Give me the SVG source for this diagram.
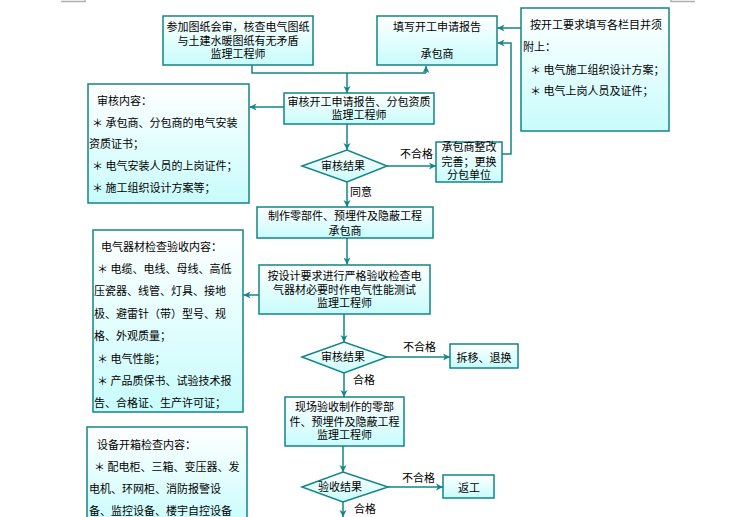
<svg xmlns="http://www.w3.org/2000/svg" width="745" height="517" viewBox="0 0 745 517">
<defs>
<linearGradient id="g" x1="0" y1="0" x2="0" y2="1">
<stop offset="0" stop-color="#ffffff"/>
<stop offset="1" stop-color="#c8fcfc"/>
</linearGradient>
<marker id="arr" markerWidth="8" markerHeight="8" refX="7" refY="4" orient="auto" markerUnits="userSpaceOnUse">
<path d="M0,0.5 L7,4 L0,7.5 L2,4 z" fill="#138585"/>
</marker>
<style>
.box{fill:url(#g);stroke:#138585;stroke-width:1.5}
.t{font-family:"Noto Sans CJK SC","Liberation Sans",sans-serif;font-size:11px;fill:#000;dominant-baseline:central}
.c{text-anchor:middle}
.ln{fill:none;stroke:#138585;stroke-width:1.5;marker-end:url(#arr)}
.pl{fill:none;stroke:#138585;stroke-width:1.5}
.crn{fill:none;stroke:#b0b0b0;stroke-width:1.5}
</style>
</defs>
<rect width="745" height="517" fill="#ffffff"/>
<g id="corners">
<polyline class="crn" points="61,1.5 85,1.5 85,0"/>
<polyline class="crn" points="671,0 671,1.5 695,1.5"/>
</g>
<g id="connectors">
<polyline class="pl" points="252,65 252,73 426,73"/>
<polyline class="ln" points="426,73 426,66"/>
<polyline class="ln" points="347,73 347,93"/>
<polyline class="ln" points="521,28 497.5,28"/>
<polyline class="ln" points="502,154 511,154 511,43 497.5,43"/>
<polyline class="ln" points="284,107 249.5,107"/>
<polyline class="ln" points="347,124 347,150"/>
<polyline class="ln" points="387,166 436,166"/>
<polyline class="ln" points="347,182 347,207"/>
<polyline class="ln" points="347,238 347,264.5"/>
<polyline class="ln" points="259,295 243.5,295"/>
<polyline class="ln" points="344,314 344,342"/>
<polyline class="ln" points="387,357 450,357"/>
<polyline class="ln" points="344,373 344,397"/>
<polyline class="ln" points="343,446 343,472"/>
<polyline class="ln" points="388,487 443,487"/>
<polyline class="ln" points="343,502 343,517"/>
</g>
<g id="labels">
<text class="t" x="400" y="153">不合格</text>
<text class="t" x="350" y="191">同意</text>
<text class="t" x="403" y="346">不合格</text>
<text class="t" x="353" y="379">合格</text>
<text class="t" x="402" y="477">不合格</text>
<text class="t" x="354" y="508">合格</text>
</g>
<g id="n1">
<rect class="box" x="163" y="16" width="150" height="49"/>
<text class="t c" x="238" y="26">参加图纸会审，核查电气图纸</text>
<text class="t c" x="238" y="39.5">与土建水暖图纸有无矛盾</text>
<text class="t c" x="238" y="53">监理工程师</text>
</g>
<g id="n2">
<rect class="box" x="377" y="16" width="120" height="49"/>
<text class="t c" x="437" y="26">填写开工申请报告</text>
<text class="t c" x="437" y="53">承包商</text>
</g>
<g id="n3">
<rect class="box" x="521" y="8" width="148" height="123"/>
<text class="t" x="530" y="24">按开工要求填写各栏目并须</text>
<text class="t" x="523" y="46">附上：</text>
<text class="t" x="530" y="69">＊ 电气施工组织设计方案；</text>
<text class="t" x="530" y="90">＊ 电气上岗人员及证件；</text>
</g>
<g id="n4">
<rect class="box" x="284" y="93" width="150" height="31"/>
<text class="t c" x="359" y="101">审核开工申请报告、分包资质</text>
<text class="t c" x="359" y="114">监理工程师</text>
</g>
<g id="n5">
<rect class="box" x="88" y="84" width="161" height="119"/>
<text class="t" x="97" y="100">审核内容：</text>
<text class="t" x="92" y="122">＊ 承包商、分包商的电气安装</text>
<text class="t" x="89" y="143">资质证书；</text>
<text class="t" x="92" y="165">＊ 电气安装人员的上岗证件；</text>
<text class="t" x="92" y="187">＊ 施工组织设计方案等；</text>
</g>
<g id="n6">
<polygon class="box" points="302,166 347,150 387,166 347,182"/>
<text class="t c" x="343" y="165">审核结果</text>
</g>
<g id="n7">
<rect class="box" x="436" y="142" width="66" height="40"/>
<text class="t c" x="469" y="146">承包商整改</text>
<text class="t c" x="469" y="161">完善；更换</text>
<text class="t c" x="469" y="174">分包单位</text>
</g>
<g id="n8">
<rect class="box" x="257" y="207" width="176" height="31"/>
<text class="t c" x="345" y="214.5">制作零部件、预埋件及隐蔽工程</text>
<text class="t c" x="345" y="229.5">承包商</text>
</g>
<g id="n9">
<rect class="box" x="259" y="265" width="171" height="49"/>
<text class="t c" x="344.5" y="275">按设计要求进行严格验收检查电</text>
<text class="t c" x="344.5" y="288.5">气器材必要时作电气性能测试</text>
<text class="t c" x="344.5" y="302">监理工程师</text>
</g>
<g id="n10">
<rect class="box" x="93" y="230" width="150" height="182"/>
<text class="t" x="101" y="246">电气器材检查验收内容：</text>
<text class="t" x="97" y="268">＊ 电缆、电线、母线、高低</text>
<text class="t" x="94" y="290">压瓷器、线管、灯具、接地</text>
<text class="t" x="94" y="312.5">极、避雷针（带）型号、规</text>
<text class="t" x="94" y="335">格、外观质量；</text>
<text class="t" x="97" y="357.5">＊ 电气性能；</text>
<text class="t" x="97" y="379.5">＊ 产品质保书、试验技术报</text>
<text class="t" x="94" y="401.5">告、合格证、生产许可证；</text>
</g>
<g id="n11">
<polygon class="box" points="302,357 344,342 387,357 344,373"/>
<text class="t c" x="343" y="356">审核结果</text>
</g>
<g id="n12">
<rect class="box" x="450" y="344" width="68" height="24"/>
<text class="t c" x="484" y="357">拆移、退换</text>
</g>
<g id="n13">
<rect class="box" x="285" y="397" width="119" height="49"/>
<text class="t c" x="344.5" y="406">现场验收制作的零部</text>
<text class="t c" x="344.5" y="420.5">件、预埋件及隐蔽工程</text>
<text class="t c" x="344.5" y="433.5">监理工程师</text>
</g>
<g id="n14">
<polygon class="box" points="302,487 343,472 388,487 343,502"/>
<text class="t c" x="340" y="486">验收结果</text>
</g>
<g id="n15">
<rect class="box" x="443" y="475" width="51" height="23"/>
<text class="t c" x="469" y="487">返工</text>
</g>
<g id="n16">
<rect class="box" x="87" y="427" width="160" height="100"/>
<text class="t" x="97" y="444">设备开箱检查内容：</text>
<text class="t" x="94" y="466">＊ 配电柜、三箱、变压器、发</text>
<text class="t" x="89" y="488">电机、环网柜、消防报警设</text>
<text class="t" x="89" y="509.5">备、监控设备、楼宇自控设备</text>
</g>
</svg>
